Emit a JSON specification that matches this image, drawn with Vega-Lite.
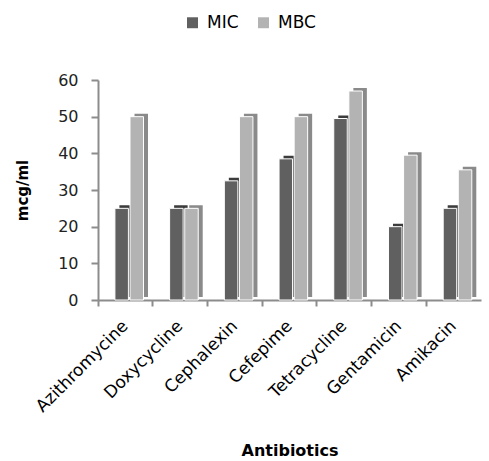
{
  "$schema": "https://vega.github.io/schema/vega-lite/v6.json",
  "width": 383,
  "height": 220,
  "autosize": "none",
  "padding": {"left": 98, "top": 80, "right": 8, "bottom": 161},
  "background": "white",
  "config": {"view": {"stroke": null}, "font": "DejaVu Sans"},
  "data": {"values": [
    {"antibiotic": "Azithromycine", "type": "MIC", "value": 25},
    {"antibiotic": "Azithromycine", "type": "MBC", "value": 50},
    {"antibiotic": "Doxycycline", "type": "MIC", "value": 25},
    {"antibiotic": "Doxycycline", "type": "MBC", "value": 25},
    {"antibiotic": "Cephalexin", "type": "MIC", "value": 32.5},
    {"antibiotic": "Cephalexin", "type": "MBC", "value": 50},
    {"antibiotic": "Cefepime", "type": "MIC", "value": 38.5},
    {"antibiotic": "Cefepime", "type": "MBC", "value": 50},
    {"antibiotic": "Tetracycline", "type": "MIC", "value": 49.5},
    {"antibiotic": "Tetracycline", "type": "MBC", "value": 57},
    {"antibiotic": "Gentamicin", "type": "MIC", "value": 20},
    {"antibiotic": "Gentamicin", "type": "MBC", "value": 39.5},
    {"antibiotic": "Amikacin", "type": "MIC", "value": 25},
    {"antibiotic": "Amikacin", "type": "MBC", "value": 35.5}
  ]},
  "encoding": {
    "x": {
      "field": "antibiotic", "type": "nominal", "sort": null,
      "scale": {"paddingInner": 0, "paddingOuter": 0},
      "axis": {
        "title": "Antibiotics", "titleFont": "DejaVu Sans", "titleFontSize": 16, "titleFontWeight": "bold",
        "titleColor": "#000", "titlePadding": 28,
        "labelAngle": -45, "labelAlign": "right", "labelBaseline": "middle",
        "labelFont": "DejaVu Sans", "labelFontSize": 17, "labelColor": "#000", "labelPadding": 17,
        "bandPosition": 0, "domainColor": "#8c8c8c", "domainWidth": 2, "tickColor": "#8c8c8c", "tickWidth": 2, "tickSize": 6
      }
    },
    "y": {
      "field": "value", "type": "quantitative",
      "scale": {"domain": [0, 60], "nice": false},
      "axis": {
        "title": "mcg/ml", "titleFont": "DejaVu Sans", "titleFontSize": 15, "titleFontWeight": "bold",
        "titleColor": "#000", "titlePadding": 27,
        "values": [0, 10, 20, 30, 40, 50, 60], "grid": false,
        "labelFont": "DejaVu Sans", "labelFontSize": 16, "labelColor": "#222", "labelPadding": 13,
        "domainColor": "#8c8c8c", "domainWidth": 2, "tickColor": "#8c8c8c", "tickWidth": 2, "tickSize": 7
      }
    }
  },
  "layer": [
    {
      "transform": [{"filter": "datum.type === 'MIC'"}],
      "mark": {"type": "bar", "width": 13.5, "xOffset": 0.8, "yOffset": -3, "color": "#3c3c3c"}
    },
    {
      "transform": [{"filter": "datum.type === 'MIC'"}],
      "mark": {"type": "bar", "width": 13.5, "xOffset": -3.7, "stroke": "white", "strokeWidth": 1},
      "encoding": {
        "color": {
          "field": "type", "type": "nominal",
          "scale": {"domain": ["MIC", "MBC"], "range": ["#606060", "#b3b3b3"]},
          "legend": {
            "title": null, "orient": "none", "direction": "horizontal", "legendX": 86, "legendY": -66,
            "symbolType": "square", "symbolSize": 120, "symbolStrokeWidth": 0,
            "labelFont": "DejaVu Sans", "labelFontSize": 17, "labelColor": "#000", "columnPadding": 16, "labelOffset": 6
          }
        }
      }
    },
    {
      "transform": [{"filter": "datum.type === 'MBC'"}],
      "mark": {"type": "bar", "width": 13.5, "xOffset": 15.9, "yOffset": -3, "color": "#8a8a8a"}
    },
    {
      "transform": [{"filter": "datum.type === 'MBC'"}],
      "mark": {"type": "bar", "width": 13.5, "xOffset": 11.4, "stroke": "white", "strokeWidth": 1},
      "encoding": {
        "color": {"field": "type", "type": "nominal", "scale": {"domain": ["MIC", "MBC"], "range": ["#606060", "#b3b3b3"]}}
      }
    }
  ]
}
